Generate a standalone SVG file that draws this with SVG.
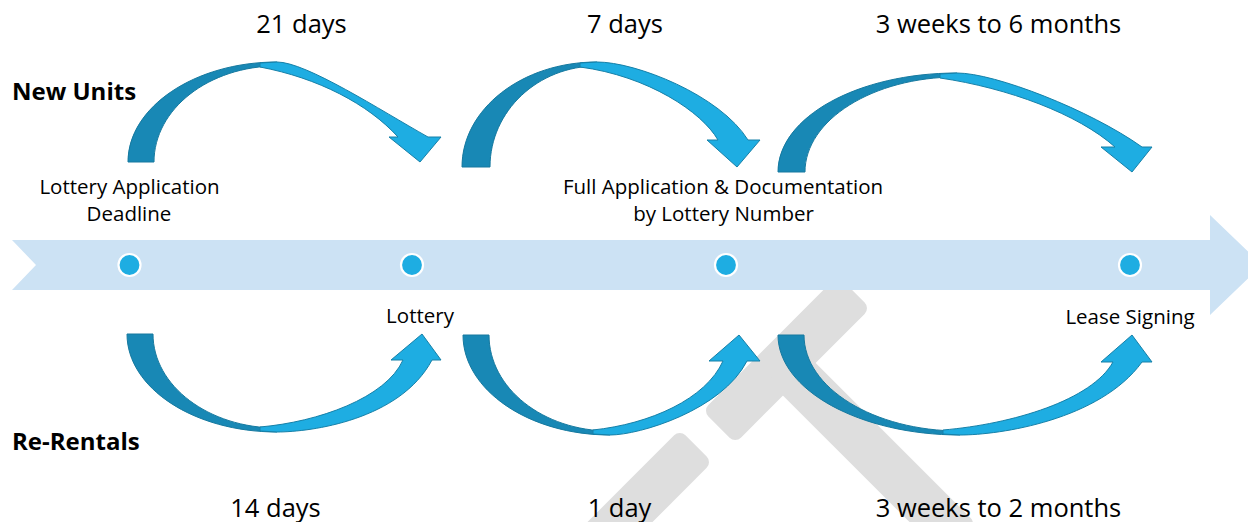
<svg xmlns="http://www.w3.org/2000/svg" width="1248" height="522" viewBox="0 0 1248 522">
  <style>
    .wm { fill: #dedede; }
    .band { fill: #cce2f4; }
    .dot { fill: #1eade2; stroke: #ffffff; stroke-width: 2.2; }
    .back { fill: #1888b5; stroke: #16799f; stroke-width: 1; stroke-linejoin: round; }
    .front { fill: #1eade2; stroke: #1680a8; stroke-width: 1; stroke-linejoin: round; }
    text { font-family: "Open Sans", "Noto Sans", "Liberation Sans", sans-serif; fill: #000000; }
    .dur { font-size: 25.5px; text-anchor: middle; }
    .lbl { font-size: 20.5px; text-anchor: middle; }
    .row { font-size: 24px; font-weight: bold; }
  </style>

  <rect x="0" y="0" width="1248" height="522" fill="#ffffff"/>

  <!-- gavel watermark -->
  <g id="watermark">
    <rect class="wm" x="-95.5" y="-23" width="191" height="46" rx="8" transform="translate(786.5,359.5) rotate(-45)"/>
    <rect class="wm" x="-92" y="-23" width="184" height="46" rx="8" transform="translate(631,511) rotate(-45)"/>
    <rect class="wm" x="-124.5" y="-23" width="249" height="46" rx="8" transform="translate(872,452) rotate(45)"/>
  </g>

  <!-- timeline band -->
  <g id="timeline">
    <path class="band" d="M12,240 L1210,240 L1210,215 L1262,265 L1210,315 L1210,290 L12,290 L36,265 Z"/>
  </g>

  <!-- milestones -->
  <g id="m-deadline">
    <circle class="dot" cx="129.5" cy="265" r="11"/>
    <text class="lbl" x="129.5" y="194">Lottery Application</text>
    <text class="lbl" x="129" y="221">Deadline</text>
  </g>
  <g id="m-lottery">
    <circle class="dot" cx="412" cy="265" r="11"/>
    <text class="lbl" x="420" y="323">Lottery</text>
  </g>
  <g id="m-full-application">
    <circle class="dot" cx="726" cy="265" r="11"/>
    <text class="lbl" x="723" y="194">Full Application &amp; Documentation</text>
    <text class="lbl" x="723.5" y="221">by Lottery Number</text>
  </g>
  <g id="m-lease">
    <circle class="dot" cx="1130" cy="265" r="11"/>
    <text class="lbl" x="1130" y="324">Lease Signing</text>
  </g>

  <!-- row headings -->
  <g id="row-new">
    <text class="row" x="12" y="100">New Units</text>
  </g>
  <g id="row-rerental">
    <text class="row" x="12" y="450">Re-Rentals</text>
  </g>

  <!-- curved step arrows -->
  <g id="connectors">
    <!-- New Units: deadline to lottery -->
    <g id="nu-1">
      <path class="back" d="M128,162 C128,107 195,62 277,62 L277,66 C209,66 154,109 154,162 Z"/>
      <path class="front" d="M260,63 L277,62 C306,62 380,110 428,137 L441,137 L420,162 L389,137 L398,137 C368,104 318,78 260,67 Z"/>
    </g>
    <!-- New Units: lottery to full application -->
    <g id="nu-2">
      <path class="back" d="M462,167 C462,109 522,62 597,62 L597,66 C538,66 490,111 490,167 Z"/>
      <path class="front" d="M580,63 L597,62 C636,62 720,95 748,140 L760,140 L737,167 L707,140 L718,140 C702,112 648,76 580,67 Z"/>
    </g>
    <!-- New Units: full application to lease -->
    <g id="nu-3">
      <path class="back" d="M778,172 C778,117 858,73 957,73 L957,77 C873,77 805,120 805,172 Z"/>
      <path class="front" d="M940,74 L957,73 C995,73 1090,110 1142,147 L1152,147 L1132,172 L1101,147 L1115,147 C1078,114 1008,88 940,78 Z"/>
    </g>
    <!-- Re-Rentals: deadline to lottery -->
    <g id="rr-1">
      <path class="back" d="M127,334 C127,388 194,432 277,432 L277,428 C209,428 153,386 153,334 Z"/>
      <path class="front" d="M260,431 L277,432 C311,432 400,420 432,360 L441,360 L422,334 L391,360 L403,360 C386,398 318,422 260,427 Z"/>
    </g>
    <!-- Re-Rentals: lottery to full application -->
    <g id="rr-2">
      <path class="back" d="M463,335 C463,390 529,435 610,435 L610,431 C543,431 489,388 489,335 Z"/>
      <path class="front" d="M593,434 L610,435 C640,435 722,410 747,361 L760,361 L739,335 L709,361 L723,361 C706,399 650,424 593,430 Z"/>
    </g>
    <!-- Re-Rentals: full application to lease -->
    <g id="rr-3">
      <path class="back" d="M778,335 C778,390 860,435 960,435 L960,431 C874,431 804,388 804,335 Z"/>
      <path class="front" d="M943,434 L960,435 C1000,435 1100,420 1142,362 L1152,362 L1132,335 L1101,362 L1113,362 C1092,400 1013,424 943,430 Z"/>
    </g>
  </g>

  <!-- durations -->
  <g id="durations">
    <text class="dur" x="301.5" y="33">21 days</text>
    <text class="dur" x="625" y="33">7 days</text>
    <text class="dur" x="998.5" y="33">3 weeks to 6 months</text>
    <text class="dur" x="275.5" y="517">14 days</text>
    <text class="dur" x="619.5" y="517">1 day</text>
    <text class="dur" x="998.5" y="517">3 weeks to 2 months</text>
  </g>
</svg>
